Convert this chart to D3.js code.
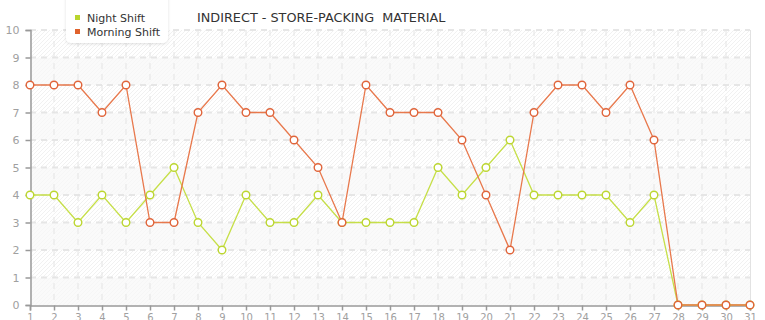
<!DOCTYPE html>
<html>
<head>
<meta charset="utf-8">
<script src="https://cdn.jsdelivr.net/npm/d3@7"></script>
<style>
  html, body { margin: 0; padding: 0; background: #ffffff; }
  svg { display: block; font-family: "DejaVu Sans", Verdana, sans-serif; }
</style>
</head>
<body>
<svg id="chart" width="765" height="320"></svg>
<script>
// Daily headcount, days 1..31
const days = d3.range(1, 32);
const nightShift   = [4,4,3,4,3,4,5,3,2,4,3,3,4,3,3,3,3,5,4,5,6,4,4,4,4,3,4,0,0,0,0];
const morningShift = [8,8,8,7,8,3,3,7,8,7,7,6,5,3,8,7,7,7,6,4,2,7,8,8,7,8,6,0,0,0,0];
const yTicks = d3.range(0, 11);
const seriesNames = ["Night Shift", "Morning Shift"];
const titleText = "INDIRECT - STORE-PACKING  MATERIAL";

(function draw() {
const series = [
  { name: seriesNames[0], values: nightShift,   line: "#c6df48", marker: "#bcd630", key: "#b9d52d" },
  { name: seriesNames[1], values: morningShift, line: "#e8784c", marker: "#e0643a", key: "#e0622c" }
];

const svg = d3.select("#chart");
const plotLeft = 30, plotRight = 750, plotTop = 30, plotBottom = 305;

const x = d3.scaleLinear().domain([1, 31]).range([plotLeft, plotRight]);
const y = d3.scaleLinear().domain([0, 10]).range([plotBottom, plotTop]);

// Patterns for the alternating bands
const defs = svg.append("defs");
const hatch = defs.append("pattern")
  .attr("id", "hatch").attr("patternUnits", "userSpaceOnUse")
  .attr("width", 4).attr("height", 4);
hatch.append("rect").attr("width", 4).attr("height", 4).attr("fill", "#ffffff");
hatch.append("path").attr("d", "M-1,1 l2,-2 M0,4 l4,-4 M3,5 l2,-2")
  .attr("stroke", "#f1f1f1").attr("stroke-width", 1);
const hatchSoft = defs.append("pattern")
  .attr("id", "hatchSoft").attr("patternUnits", "userSpaceOnUse")
  .attr("width", 4).attr("height", 4);
hatchSoft.append("rect").attr("width", 4).attr("height", 4).attr("fill", "#fafafa");
hatchSoft.append("path").attr("d", "M-1,1 l2,-2 M0,4 l4,-4 M3,5 l2,-2")
  .attr("stroke", "#f6f6f6").attr("stroke-width", 1);

// Horizontal bands
svg.append("g").selectAll("rect")
  .data(d3.range(0, 10))
  .join("rect")
  .attr("x", plotLeft).attr("width", plotRight - plotLeft)
  .attr("y", d => y(d + 1)).attr("height", d => y(d) - y(d + 1))
  .attr("fill", d => d % 2 === 1 ? "url(#hatch)" : "url(#hatchSoft)");

// Grid lines
const grid = svg.append("g");
grid.selectAll("line.h")
  .data(yTicks.filter(d => d > 0))
  .join("line").attr("class", "h")
  .attr("x1", plotLeft).attr("x2", plotRight)
  .attr("y1", d => y(d)).attr("y2", d => y(d))
  .attr("stroke", "#e6e6e6").attr("stroke-width", 2)
  .attr("stroke-dasharray", "6,5");
grid.selectAll("line.v")
  .data(days.filter(d => d > 1 && d < 31))
  .join("line").attr("class", "v")
  .attr("x1", d => x(d)).attr("x2", d => x(d))
  .attr("y1", plotTop).attr("y2", plotBottom)
  .attr("stroke", "#e4e4e4").attr("stroke-width", 1)
  .attr("stroke-dasharray", "6,5");
// right plot border
svg.append("line")
  .attr("x1", plotRight + 0.5).attr("x2", plotRight + 0.5)
  .attr("y1", plotTop).attr("y2", plotBottom)
  .attr("stroke", "#e2e2e2");

// Axes
const yAxis = d3.axisLeft(y).tickValues(yTicks).tickSize(5).tickPadding(6);
const xAxis = d3.axisBottom(x).tickValues(days).tickSize(5).tickPadding(3);

const gy = svg.append("g").attr("transform", `translate(${plotLeft + 0.5},0)`).call(yAxis);
const gx = svg.append("g").attr("transform", `translate(0,${plotBottom + 0.5})`).call(xAxis);
[gx, gy].forEach(g => {
  g.select(".domain").attr("stroke", "#999999").attr("stroke-width", 1.5);
  g.selectAll(".tick line").attr("stroke", "#999999").attr("stroke-width", 1.5);
  g.selectAll(".tick text")
    .attr("fill", "#a0a0a0")
    .style("font-family", "\"DejaVu Sans\", Verdana, sans-serif")
    .style("font-size", "10px");
});
gy.selectAll(".tick text").style("font-size", "11px");

// Lines and markers
const line = d3.line().x((d, i) => x(days[i])).y(d => y(d));
series.forEach(s => {
  svg.append("path")
    .datum(s.values)
    .attr("d", line)
    .attr("fill", "none")
    .attr("stroke", s.line)
    .attr("stroke-width", 1.3);
});
series.forEach(s => {
  svg.append("g").selectAll("circle")
    .data(s.values)
    .join("circle")
    .attr("cx", (d, i) => x(days[i]))
    .attr("cy", d => y(d))
    .attr("r", 3.8)
    .attr("fill", "#ffffff")
    .attr("stroke", s.marker)
    .attr("stroke-width", 1.4);
});

// Title
svg.append("text")
  .attr("x", 197).attr("y", 22)
  .attr("fill", "#333333")
  .style("font-size", "12.8px")
  .style("white-space", "pre")
  .text(titleText);

// Legend
const legendFilter = defs.append("filter").attr("id", "legendShadow")
  .attr("x", "-20%").attr("y", "-20%").attr("width", "140%").attr("height", "150%");
legendFilter.append("feDropShadow")
  .attr("dx", 0).attr("dy", 1).attr("stdDeviation", 1.5)
  .attr("flood-color", "#000000").attr("flood-opacity", 0.12);

const legend = svg.append("g");
legend.append("rect")
  .attr("x", 66).attr("y", -10).attr("width", 102).attr("height", 53)
  .attr("rx", 5).attr("fill", "#ffffff")
  .attr("filter", "url(#legendShadow)");
series.forEach((s, i) => {
  const ly = 18 + i * 14;
  legend.append("rect")
    .attr("x", 75).attr("y", ly - 3).attr("width", 5).attr("height", 5)
    .attr("fill", s.key);
  legend.append("text")
    .attr("x", 87).attr("y", ly + 4)
    .attr("fill", "#333333")
    .style("font-size", "11px")
    .text(s.name);
});
})();
</script>
</body>
</html>
